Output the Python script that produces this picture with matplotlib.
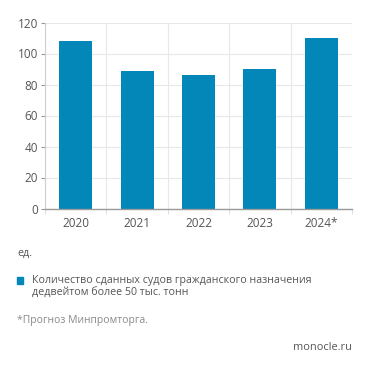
import matplotlib
matplotlib.use("Agg")
import matplotlib.pyplot as plt
import numpy as np

categories = ["2020", "2021", "2022", "2023", "2024*"]
values = [108, 89, 86, 90, 110]
yticks = [0, 20, 40, 60, 80, 100, 120]
legend_label = "Количество сданных судов гражданского назначения\nдедвейтом более 50 тыс. тонн"
unit_label = "ед."
footnote = "*Прогноз Минпромторга."
source = "monocle.ru"

plt.rcParams['font.family'] = ['Open Sans', 'DejaVu Sans']
bar_color = "#0386b8"

fig = plt.figure(figsize=(3.71, 3.71), dpi=100)
ax = fig.add_axes([45/371, 1-208.5/371, (352-45)/371, (208.5-22.5)/371])

x = np.arange(len(categories))
ax.bar(x, values, width=0.54, color=bar_color, zorder=3)

ax.set_xlim(-0.5, len(categories)-0.5)
ax.set_ylim(0, 120)
ax.set_yticks(yticks)
ax.set_yticklabels([str(v) for v in yticks])
ax.set_xticks(x)
ax.set_xticklabels(categories)
ax.set_xticks(np.arange(-0.5, len(categories), 1.0), minor=True)

ax.grid(axis='y', color='#e8e8e8', linewidth=0.8, zorder=0)
ax.grid(axis='x', which='minor', color='#e8e8e8', linewidth=0.8, zorder=0)
ax.grid(axis='x', which='major', visible=False)

for s in ['top', 'right']:
    ax.spines[s].set_visible(False)
ax.spines['left'].set_color('#cfcfcf')
ax.spines['left'].set_linewidth(0.8)
ax.spines['bottom'].set_color('#9a9a9a')
ax.spines['bottom'].set_linewidth(1.0)
ax.spines['bottom'].set_zorder(4)

ax.tick_params(axis='y', length=3, width=0.8, color='#9a9a9a', labelsize=8.5, labelcolor='#555555', pad=2)
ax.tick_params(axis='x', which='major', length=0, labelsize=8.5, labelcolor='#555555', pad=6)
ax.tick_params(axis='x', which='minor', length=3.5, width=0.8, color='#e0e0e0')

fig.text(17/371, 1-253/371, unit_label, fontsize=7.7, color='#555555', va='center', ha='left')
fig.patches.append(plt.Rectangle((17/371, 1-283.5/371), 6.5/371, 6.5/371,
                                 transform=fig.transFigure, color=bar_color, figure=fig))
fig.text(32/371, 1-286.5/371, legend_label, fontsize=7.7, color='#555555', va='center', ha='left',
         linespacing=1.2)
fig.text(17/371, 1-320/371, footnote, fontsize=7.5, color='#8a8a8a', va='center', ha='left')
fig.text(352/371, 1-348/371, source, fontsize=7.9, color='#555555', va='center', ha='right')

fig.savefig("out.png", dpi=100, facecolor='white')
